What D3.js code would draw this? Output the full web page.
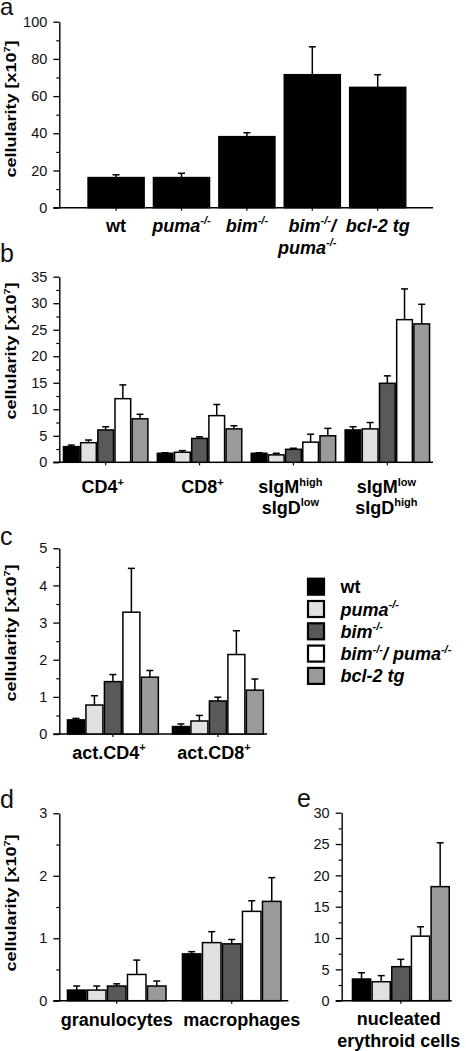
<!DOCTYPE html>
<html><head><meta charset="utf-8">
<script src="https://cdn.jsdelivr.net/npm/d3@7"></script>
<style>
body{margin:0;background:#fff}
svg{display:block}
text{font-family:"Liberation Sans",Arial,Helvetica,sans-serif}
</style>
</head><body>
<svg id="chart" width="466" height="1051"></svg>
<script>
// ---------- data ----------
const seriesNames = ["wt", "puma^{-/-}", "bim^{-/-}", "bim^{-/-}/ puma^{-/-}", "bcl-2 tg"];
const seriesItalic = [false, true, true, true, true];
const seriesColors = ["#000000", "#e1e1e1", "#595959", "#ffffff", "#9a9a9a"];

// panel a
const aCategories = ["wt", "puma^{-/-}", "bim^{-/-}", "bim^{-/-}/|puma^{-/-}", "bcl-2 tg"];
const aItalic = [false, true, true, true, true];
const aValues = [16.2, 16.2, 38.2, 71.5, 64.7];
const aErrors = [1.5, 2.3, 2.1, 15.0, 6.8];
const aTicks = [0, 20, 40, 60, 80, 100];
const aMinorTicks = [10, 30, 50, 70, 90];

// panel b
const bCategories = ["CD4^{+}", "CD8^{+}", "sIgM^{high}|sIgD^{low}", "sIgM^{low}|sIgD^{high}"];
const bValues = [
  [2.95, 3.7, 6.1, 12.0, 8.2],
  [1.7, 1.9, 4.5, 8.8, 6.3],
  [1.7, 1.4, 2.45, 3.8, 5.0],
  [6.1, 6.3, 14.9, 26.9, 26.1]
];
const bErrors = [
  [0.3, 0.5, 0.6, 2.6, 0.85],
  [0.1, 0.3, 0.3, 2.1, 0.6],
  [0.1, 0.3, 0.2, 1.5, 1.4],
  [0.6, 1.2, 1.4, 5.8, 3.7]
];
const bTicks = [0, 5, 10, 15, 20, 25, 30, 35];
const bMinorTicks = [2.5, 7.5, 12.5, 17.5, 22.5, 27.5, 32.5];

// panel c
const cCategories = ["act.CD4^{+}", "act.CD8^{+}"];
const cValues = [
  [0.38, 0.78, 1.41, 3.28, 1.53],
  [0.2, 0.35, 0.89, 2.14, 1.18]
];
const cErrors = [
  [0.04, 0.25, 0.19, 1.18, 0.18],
  [0.07, 0.15, 0.1, 0.64, 0.3]
];
const cTicks = [0, 1, 2, 3, 4, 5];
const cMinorTicks = [0.5, 1.5, 2.5, 3.5, 4.5];

// panel d
const dCategories = ["granulocytes", "macrophages"];
const dValues = [
  [0.17, 0.17, 0.235, 0.42, 0.235],
  [0.75, 0.93, 0.91, 1.43, 1.59]
];
const dErrors = [
  [0.065, 0.065, 0.035, 0.23, 0.08],
  [0.035, 0.175, 0.07, 0.17, 0.38]
];
const dTicks = [0, 1, 2, 3];
const dMinorTicks = [0.5, 1.5, 2.5];

// panel e
const eCategories = ["nucleated|erythroid cells"];
const eValues = [[3.46, 3.03, 5.43, 10.3, 18.2]];
const eErrors = [[1.0, 0.97, 1.17, 1.5, 7.0]];
const eTicks = [0, 5, 10, 15, 20, 25, 30];
const eMinorTicks = [2.5, 7.5, 12.5, 17.5, 22.5, 27.5];

const yLabelText = "cellularity [x10^{7}]";

// ---------- helpers ----------
const svg = d3.select("#chart");

function parseRich(str) {
  const parts = [];
  const re = /\^\{([^}]*)\}/g;
  let last = 0, m;
  while ((m = re.exec(str)) !== null) {
    if (m.index > last) parts.push({t: str.slice(last, m.index), sup: false});
    parts.push({t: m[1], sup: true});
    last = re.lastIndex;
  }
  if (last < str.length) parts.push({t: str.slice(last), sup: false});
  return parts;
}

function richLine(textSel, str, size, shiftFrac) {
  const supSize = Math.round(size * 0.62);
  const shift = size * (shiftFrac || 0.42);
  let up = false;
  parseRich(str).forEach(p => {
    const ts = textSel.append("tspan").text(p.t);
    if (p.sup) {
      ts.attr("font-size", supSize);
      if (!up) { ts.attr("dy", -shift); up = true; }
    } else if (up) {
      ts.attr("dy", shift); up = false;
    }
  });
}

function richText(g, x, y, str, opts) {
  const lines = str.split("|");
  lines.forEach((ln, i) => {
    const t = g.append("text")
      .attr("x", x + (opts.lineDx ? opts.lineDx[i] || 0 : 0)).attr("y", y + i * opts.lh)
      .attr("text-anchor", opts.anchor || "middle")
      .attr("font-size", opts.size)
      .attr("font-weight", "bold")
      .attr("font-style", opts.italic ? "italic" : "normal");
    richLine(t, ln, opts.size);
  });
}

function drawPanel(p) {
  const g = svg.append("g");
  const y = d3.scaleLinear().domain(p.yDomain).range(p.yRange);
  const x0 = d3.scaleBand().domain(d3.range(p.categories.length))
    .range(p.xRange).paddingInner(p.padInner).paddingOuter(p.padOuter || 0);
  const nSeries = p.values[0].length;
  const x1 = d3.scaleBand().domain(d3.range(nSeries)).range([0, x0.bandwidth()]);

  // minor ticks
  g.append("g").attr("transform", `translate(${p.axisX},0)`)
    .call(d3.axisLeft(y).tickValues(p.minor).tickSize(3).tickFormat("").tickSizeOuter(0))
    .call(s => s.select(".domain").remove())
    .call(s => s.selectAll("line").attr("stroke", "#000").attr("stroke-width", 1.2));
  // major ticks
  const ax = g.append("g").attr("transform", `translate(${p.axisX},0)`)
    .call(d3.axisLeft(y).tickValues(p.ticks).tickFormat(d3.format("~g"))
      .tickSize(6).tickPadding(6).tickSizeOuter(0));
  ax.select(".domain").attr("stroke", "#000").attr("stroke-width", 1.4);
  ax.selectAll(".tick line").attr("stroke", "#000").attr("stroke-width", 1.3);
  ax.selectAll(".tick text").attr("font-size", 14.5).attr("fill", "#111")
    .attr("font-family", "'Liberation Sans',Arial,sans-serif");

  // x axis line
  g.append("line").attr("x1", p.axisX - 6).attr("x2", p.xEnd)
    .attr("y1", y(0)).attr("y2", y(0)).attr("stroke", "#000").attr("stroke-width", 1.4);
  // category ticks
  g.selectAll(".ctick").data(p.categories).join("line")
    .attr("x1", (d, i) => x0(i) + x0.bandwidth() / 2)
    .attr("x2", (d, i) => x0(i) + x0.bandwidth() / 2)
    .attr("y1", y(0)).attr("y2", y(0) + 3)
    .attr("stroke", "#000").attr("stroke-width", 1.2);

  // bars
  const groups = g.selectAll(".grp").data(p.values).join("g")
    .attr("transform", (d, i) => `translate(${x0(i)},0)`);
  groups.each(function(vals, gi) {
    const gg = d3.select(this);
    vals.forEach((v, si) => {
      const color = p.colors ? p.colors[si] : seriesColors[si];
      const bx = x1(si), bw = x1.bandwidth();
      const top = y(v + p.errors[gi][si]);
      gg.append("line").attr("x1", bx + bw / 2).attr("x2", bx + bw / 2)
        .attr("y1", y(v)).attr("y2", top).attr("stroke", "#000").attr("stroke-width", 1.5);
      gg.append("line").attr("x1", bx + bw / 2 - 3.5).attr("x2", bx + bw / 2 + 3.5)
        .attr("y1", top).attr("y2", top).attr("stroke", "#000").attr("stroke-width", 1.5);
      gg.append("rect")
        .attr("x", bx + 0.75).attr("width", Math.max(0, bw - 1.5))
        .attr("y", y(v)).attr("height", y(0) - y(v))
        .attr("fill", color).attr("stroke", "#000").attr("stroke-width", 1.5);
    });
  });

  // category labels
  p.categories.forEach((c, i) => {
    const dx = p.labelDx ? p.labelDx[i] : 0;
    richText(g, x0(i) + x0.bandwidth() / 2 + dx, p.labelY, c,
      {size: 18, lh: p.labelLH, italic: p.italic ? p.italic[i] : false,
       lineDx: p.lineDx ? p.lineDx[i] : null});
  });

  // y label (slightly condensed across the text direction, as in the reference)
  if (p.yLabelCenter) {
    const t = g.append("text")
      .attr("transform", `translate(15.5,${p.yLabelCenter}) rotate(-90) scale(1,0.82)`)
      .attr("text-anchor", "middle").attr("font-size", 18).attr("font-weight", "bold");
    richLine(t, yLabelText, 18, 0.36);
  }
  // panel letter
  g.append("text").attr("x", p.letterX).attr("y", p.letterY)
    .attr("font-size", p.letterSize || 25).attr("fill", "#111").text(p.letter);
}

// ---------- panels ----------
drawPanel({
  categories: aCategories, italic: aItalic,
  values: aValues.map(v => [v]), errors: aErrors.map(e => [e]), colors: ["#000"],
  ticks: aTicks, minor: aMinorTicks,
  yDomain: [0, 100], yRange: [207.7, 21.7], axisX: 59.3, xEnd: 433,
  xRange: [83.4, 410.4], padInner: 0.12, padOuter: 0.06,
  labelDx: [0, 0, 0, 0, 0], lineDx: [null, null, null, [0, -5], null],
  labelY: 231.5, labelLH: 22, yLabelCenter: 109,
  letter: "a", letterX: 0, letterY: 15, letterSize: 24
});

drawPanel({
  categories: bCategories,
  values: bValues, errors: bErrors,
  ticks: bTicks, minor: bMinorTicks,
  yDomain: [0, 35], yRange: [462.3, 276.7], axisX: 59.3, xEnd: 433,
  xRange: [62.7, 430.3], padInner: 0.085,
  labelDx: [-3, 3, -3, -1],
  labelY: 493.3, labelLH: 20.5, yLabelCenter: 351, letter: "b", letterX: 0, letterY: 262
});

drawPanel({
  categories: cCategories,
  values: cValues, errors: cErrors,
  ticks: cTicks, minor: cMinorTicks,
  yDomain: [0, 5], yRange: [734, 548.3], axisX: 59.3, xEnd: 267,
  xRange: [66.7, 264.1], padInner: 0.12,
  labelDx: [-4, -4],
  labelY: 759, labelLH: 20, yLabelCenter: 633, letter: "c", letterX: 0, letterY: 545
});

drawPanel({
  categories: dCategories,
  values: dValues, errors: dErrors,
  ticks: dTicks, minor: dMinorTicks,
  yDomain: [0, 3], yRange: [1000.7, 813.3], axisX: 59.3, xEnd: 288.3,
  xRange: [66.7, 281.75], padInner: 0.13,
  labelDx: [0, 10],
  labelY: 1026, labelLH: 20, yLabelCenter: 903, letter: "d", letterX: 0, letterY: 808
});

drawPanel({
  categories: eCategories,
  values: eValues, errors: eErrors,
  ticks: eTicks, minor: eMinorTicks,
  yDomain: [0, 30], yRange: [1000.7, 812.7], axisX: 341.7, xEnd: 451.7,
  xRange: [351.7, 450], padInner: 0,
  labelDx: [-2],
  labelY: 1025, labelLH: 22, yLabelCenter: null, letter: "e", letterX: 297, letterY: 807
});

// ---------- legend ----------
const legend = svg.append("g");
seriesNames.forEach((name, i) => {
  const cy = 586.7 + i * 22.3;
  legend.append("rect").attr("x", 308).attr("y", cy - 8).attr("width", 16).attr("height", 16)
    .attr("fill", seriesColors[i]).attr("stroke", "#000").attr("stroke-width", 2.2);
  const t = legend.append("text").attr("x", 340.5).attr("y", cy + 6.5)
    .attr("font-size", 18).attr("font-weight", "bold")
    .attr("font-style", seriesItalic[i] ? "italic" : "normal");
  richLine(t, name, 18);
});
</script>
</body></html>
